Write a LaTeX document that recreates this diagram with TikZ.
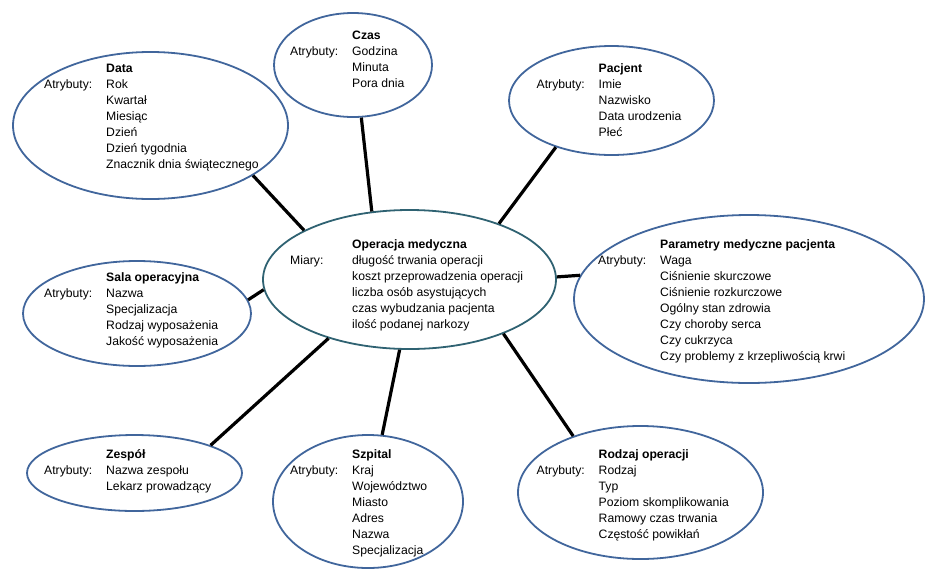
\documentclass[tikz,border=0pt]{standalone}
\usepackage{fontspec}
\setmainfont{Liberation Sans}
\usetikzlibrary{shapes.geometric}
\definecolor{ellblue}{HTML}{41669C}
\definecolor{ellteal}{HTML}{2F6272}
\tikzset{
  ell/.style={ellipse, draw=ellblue, line width=1.8pt, inner sep=0pt},
  ellc/.style={ell, draw=ellteal},
  txt/.style={anchor=north west, inner sep=0pt, font=\fontsize{12.2}{16}\selectfont},
  conn/.style={line width=3.2pt, draw=black}
}
\newcommand{\ttl}[1]{\textbf{#1}}
\begin{document}
\begin{tikzpicture}[x=1pt,y=-1pt]
\useasboundingbox (0,0) rectangle (937,582);
% ellipses
\node[ell,  minimum width=275pt, minimum height=147pt] (data) at (150.5,125.5) {};
\node[ell,  minimum width=158pt, minimum height=104pt] (czas) at (353,65) {};
\node[ell,  minimum width=205pt, minimum height=109pt] (pacjent) at (611.5,100.5) {};
\node[ellc, minimum width=293pt, minimum height=139pt] (oper) at (409.5,279.5) {};
\node[ell,  minimum width=350pt, minimum height=168pt] (param) at (749,299) {};
\node[ell,  minimum width=228pt, minimum height=105pt] (sala) at (137,313.5) {};
\node[ell,  minimum width=215pt, minimum height=76pt] (zespol) at (134.5,473) {};
\node[ell,  minimum width=190pt, minimum height=133pt] (szpital) at (368,501.5) {};
\node[ell,  minimum width=245pt, minimum height=133pt] (rodzaj) at (640.5,492.5) {};
% texts
\node[txt] (tdata) at (44,61.5) {\begin{tabular}{@{}p{62pt}@{}l@{}}
 & \ttl{Data}\\ Atrybuty: & Rok\\ & Kwartał\\ & Miesiąc\\ & Dzień\\ & Dzień tygodnia\\ & Znacznik dnia świątecznego\end{tabular}};
\node[txt] (tczas) at (290,28) {\begin{tabular}{@{}p{62pt}@{}l@{}}
 & \ttl{Czas}\\ Atrybuty: & Godzina\\ & Minuta\\ & Pora dnia\end{tabular}};
\node[txt] (tpacjent) at (536.5,61.5) {\begin{tabular}{@{}p{62pt}@{}l@{}}
 & \ttl{Pacjent}\\ Atrybuty: & Imie\\ & Nazwisko\\ & Data urodzenia\\ & Płeć\end{tabular}};
\node[txt] (toper) at (290,237) {\begin{tabular}{@{}p{62pt}@{}l@{}}
 & \ttl{Operacja medyczna}\\ Miary: & długość trwania operacji\\ & koszt przeprowadzenia operacji\\ & liczba osób asystujących\\ & czas wybudzania pacjenta\\ & ilość podanej narkozy\end{tabular}};
\node[txt] (tparam) at (598,237) {\begin{tabular}{@{}p{62pt}@{}l@{}}
 & \ttl{Parametry medyczne pacjenta}\\ Atrybuty: & Waga\\ & Ciśnienie skurczowe\\ & Ciśnienie rozkurczowe\\ & Ogólny stan zdrowia\\ & Czy choroby serca\\ & Czy cukrzyca\\ & Czy problemy z krzepliwością krwi\end{tabular}};
\node[txt] (tsala) at (44,270.5) {\begin{tabular}{@{}p{62pt}@{}l@{}}
 & \ttl{Sala operacyjna}\\ Atrybuty: & Nazwa\\ & Specjalizacja\\ & Rodzaj wyposażenia\\ & Jakość wyposażenia\end{tabular}};
\node[txt] (tzespol) at (44,447.5) {\begin{tabular}{@{}p{62pt}@{}l@{}}
 & \ttl{Zespół}\\ Atrybuty: & Nazwa zespołu\\ & Lekarz prowadzący\end{tabular}};
\node[txt] (tszpital) at (290,447.5) {\begin{tabular}{@{}p{62pt}@{}l@{}}
 & \ttl{Szpital}\\ Atrybuty: & Kraj\\ & Województwo\\ & Miasto\\ & Adres\\ & Nazwa\\ & Specjalizacja\end{tabular}};
\node[txt] (trodzaj) at (536.5,447.5) {\begin{tabular}{@{}p{62pt}@{}l@{}}
 & \ttl{Rodzaj operacji}\\ Atrybuty: & Rodzaj\\ & Typ\\ & Poziom skomplikowania\\ & Ramowy czas trwania\\ & Częstość powikłań\end{tabular}};
% connectors
\draw[conn] (oper.155.5) -- (data.-26.7);
\draw[conn] (oper.119.1) -- (czas.-81.3);
\draw[conn] (oper.32.3) -- (pacjent.220.8);
\draw[conn] (oper.184.2) -- (sala.7.6);
\draw[conn] (oper.1) -- (param.172.6);
\draw[conn] (oper.216.9) -- (zespol.20.3);
\draw[conn] (oper.262.9) -- (szpital.78.1);
\draw[conn] (oper.-30) -- (rodzaj.140.6);
\end{tikzpicture}
\end{document}
